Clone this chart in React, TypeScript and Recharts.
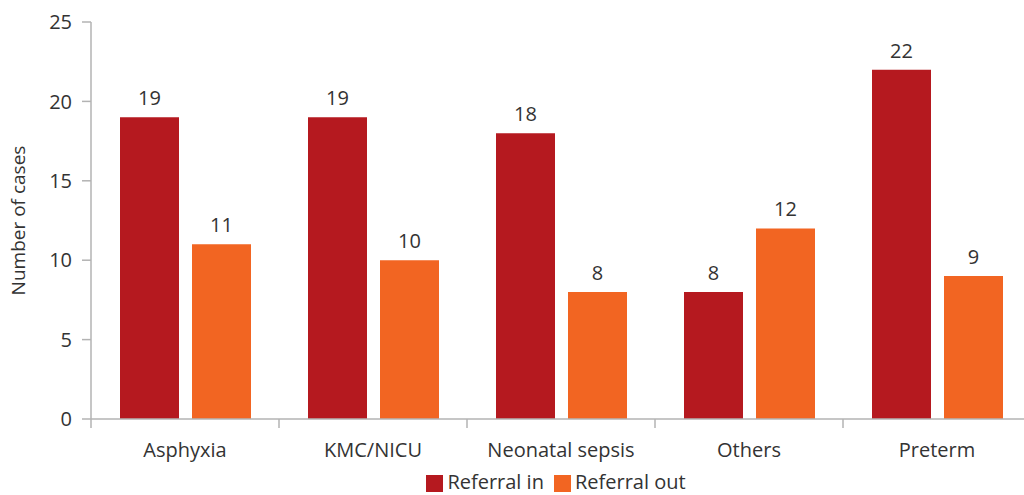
import { Bar, BarChart, LabelList, Legend, XAxis, YAxis } from 'recharts'

const categories = ['Asphyxia', 'KMC/NICU', 'Neonatal sepsis', 'Others', 'Preterm']
const referralIn = [19, 19, 18, 8, 22]
const referralOut = [11, 10, 8, 12, 9]
const yTicks = [0, 5, 10, 15, 20, 25]

const chartData = categories.map((name, i) => ({
  name,
  in: referralIn[i],
  out: referralOut[i],
}))

const CHART_W = 1040
const MARGIN = { top: 22, right: 9, left: 0, bottom: 2 }
const Y_W = 91
const FS = 20
const font = "'Open Sans', 'Noto Sans', sans-serif"
const textColor = '#333333'
const axisColor = '#b3b3b3'

// category tick with a small divider at the band's left edge
const CategoryTick = ({ x, y, payload }: any) => {
  const step = (CHART_W - MARGIN.left - MARGIN.right - Y_W) / categories.length
  const left = x - step / 2
  return (
    <g>
      <line x1={left} y1={y - 8} x2={left} y2={y + 1} stroke={axisColor} strokeWidth={1.5} />
      <text
        x={x}
        y={y + 30}
        textAnchor="middle"
        fill={textColor}
        fontSize={FS}
        fontFamily={font}
      >
        {payload.value}
      </text>
    </g>
  )
}

export default function App() {
  return (
    <div
      style={{
        position: 'absolute',
        left: 0,
        top: 0,
        width: 1024,
        height: 495,
        overflow: 'hidden',
        background: '#fff',
      }}
    >
      <BarChart
        width={CHART_W}
        height={495}
        data={chartData}
        margin={MARGIN}
        barSize={59}
        barGap={13}
      >
        <XAxis
          dataKey="name"
          axisLine={{ stroke: axisColor, strokeWidth: 1.5 }}
          tickLine={false}
          tick={<CategoryTick />}
          height={47}
          interval={0}
        />
        <YAxis
          width={Y_W}
          domain={[0, 25]}
          ticks={yTicks}
          axisLine={{ stroke: axisColor, strokeWidth: 1.5 }}
          tickLine={{ stroke: axisColor, strokeWidth: 1.5 }}
          tickSize={9}
          tickMargin={10}
          tick={{ fill: textColor, fontSize: FS, fontFamily: font }}
          label={{
            value: 'Number of cases',
            angle: -90,
            position: 'insideLeft',
            offset: 18,
            style: { textAnchor: 'middle', fill: textColor, fontSize: FS - 1, fontFamily: font },
          }}
        />
        <Legend
          verticalAlign="bottom"
          align="center"
          iconType="square"
          iconSize={17}
          wrapperStyle={{ fontFamily: font, fontSize: FS, left: Y_W, width: 940, bottom: 0 }}
          formatter={(value) => <span style={{ color: textColor }}>{value}</span>}
        />
        <Bar dataKey="in" name="Referral in" fill="#b5191f" isAnimationActive={false}>
          <LabelList
            dataKey="in"
            position="top"
            offset={12}
            fill={textColor}
            fontSize={FS}
            fontFamily={font}
          />
        </Bar>
        <Bar dataKey="out" name="Referral out" fill="#f26522" isAnimationActive={false}>
          <LabelList
            dataKey="out"
            position="top"
            offset={12}
            fill={textColor}
            fontSize={FS}
            fontFamily={font}
          />
        </Bar>
      </BarChart>
    </div>
  )
}
